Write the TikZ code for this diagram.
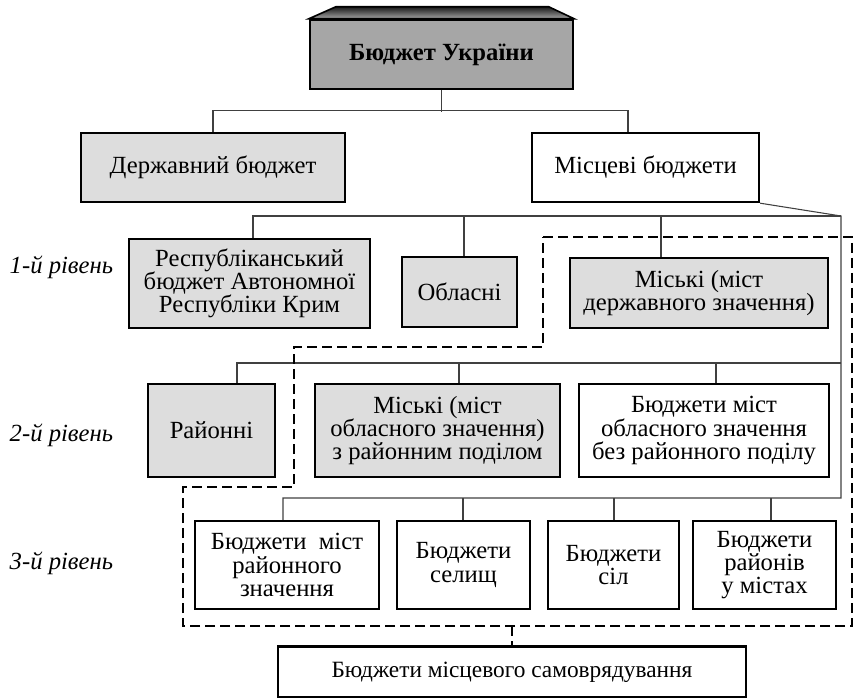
\documentclass[tikz,border=0pt]{standalone}
\usepackage{fontspec}
\setmainfont{Liberation Serif}
\usetikzlibrary{positioning}
\definecolor{boxgray}{RGB}{221,221,221}
\definecolor{topgray}{RGB}{166,166,166}

\begin{document}
\begin{tikzpicture}[x=0.75pt,y=-0.75pt,
  box/.style={draw, line width=1.8pt, align=center, inner sep=2pt,
    font=\fontsize{18.5}{17.5}\selectfont},
  wh/.style 2 args={minimum width=#1*0.75pt, minimum height=#2*0.75pt},
  grey/.style={box, fill=boxgray},
  plain/.style={box, fill=white},
  dark/.style={box, fill=topgray},
  conn/.style={line width=0.8pt, black!75},
  dashbox/.style={line width=1.4pt, dash pattern=on 7.5pt off 3.75pt},
  level/.style={anchor=west, font=\fontsize{18.5}{19}\selectfont\itshape}]
\useasboundingbox (0,0) rectangle (856,698);

% boxes
\node[dark, wh={263}{69}] (ukr) at (441.5,54.5) {\textbf{Бюджет України}};
\shade[top color=black!90, bottom color=topgray, draw=black, line width=1.2pt]
  (ukr.north west) -- ++(27,-12) -- ++(213,0) -- (ukr.north east) -- cycle;
\node[grey, wh={264}{69}] (derzh) at (213,167.5) {Державний бюджет};
\node[plain, wh={227}{69}] (misc) at (645.5,167.5) {Місцеві бюджети};

\node[grey, wh={241}{89}] (resp) at (249.5,283.5) {Республіканський\\бюджет Автономної\\Республіки Крим};
\node[grey, wh={115}{70}] (obl) at (459.5,292) {Обласні};
\node[grey, wh={258}{70}] (msdz) at (699,293) {Міські (міст\\державного значення)};

\node[grey, wh={127}{93}] (rai) at (211.5,430.5) {Районні};
\node[grey, wh={245}{93}] (msob) at (437.5,430.5) {Міські (міст\\обласного значення)\\з районним поділом};
\node[plain, wh={250}{93}] (bmob) at (704,430.5) {Бюджети міст\\обласного значення\\без районного поділу};

\node[plain, wh={184}{88}] (b3a) at (287,565) {Бюджети~~міст\\районного\\значення};
\node[plain, wh={133}{88}] (b3b) at (463.5,565) {Бюджети\\селищ};
\node[plain, wh={131}{88}] (b3c) at (613.5,565) {Бюджети\\сіл};
\node[plain, wh={143}{88}] (b3d) at (764.5,565) {Бюджети\\районів\\у містах};

\node[plain, wh={468}{51}, font=\fontsize{17.5}{18}\selectfont] (bms) at (512,672) {Бюджети місцевого самоврядування};

% level labels
\node[level] (lv1) at (5,267) {1-й рівень};
\node[level] (lv2) at (5,435) {2-й рівень};
\node[level] (lv3) at (5,563) {3-й рівень};

% connectors
\coordinate (r1) at (841,216);
\coordinate (r2) at (841,363);
\coordinate (r3) at (841,498);
\draw[conn] (ukr.south) -- (ukr.south |- 0,112);
\draw[conn] (derzh.north) -- ++(0,-21) -| (misc.north -| 628,0);
\draw[conn] (misc.south east) -- (r1) -- (r3) -| (b3a.north -| 283,0);
\draw[conn] (r1) -| (resp.north -| 253,0);
\draw[conn] (r2) -| (rai.north -| 237,0);
\foreach \n/\x in {obl/464, msdz/661}
  \draw[conn] (\n.north -| \x,0) -- (\x,216);
\foreach \n/\x in {msob/459, bmob/716}
  \draw[conn] (\n.north -| \x,0) -- (\x,363);
\foreach \n/\x in {b3b/463, b3c/614, b3d/771}
  \draw[conn] (\n.north -| \x,0) -- (\x,498);

% local self-government group
\draw[dashbox] (543,237) -| (852,626) -| (183,487) -| (294,347) -- (543,347) -- cycle;
\draw[dashbox] (bms.north |- 0,626) -- (bms.north);
\end{tikzpicture}
\end{document}
